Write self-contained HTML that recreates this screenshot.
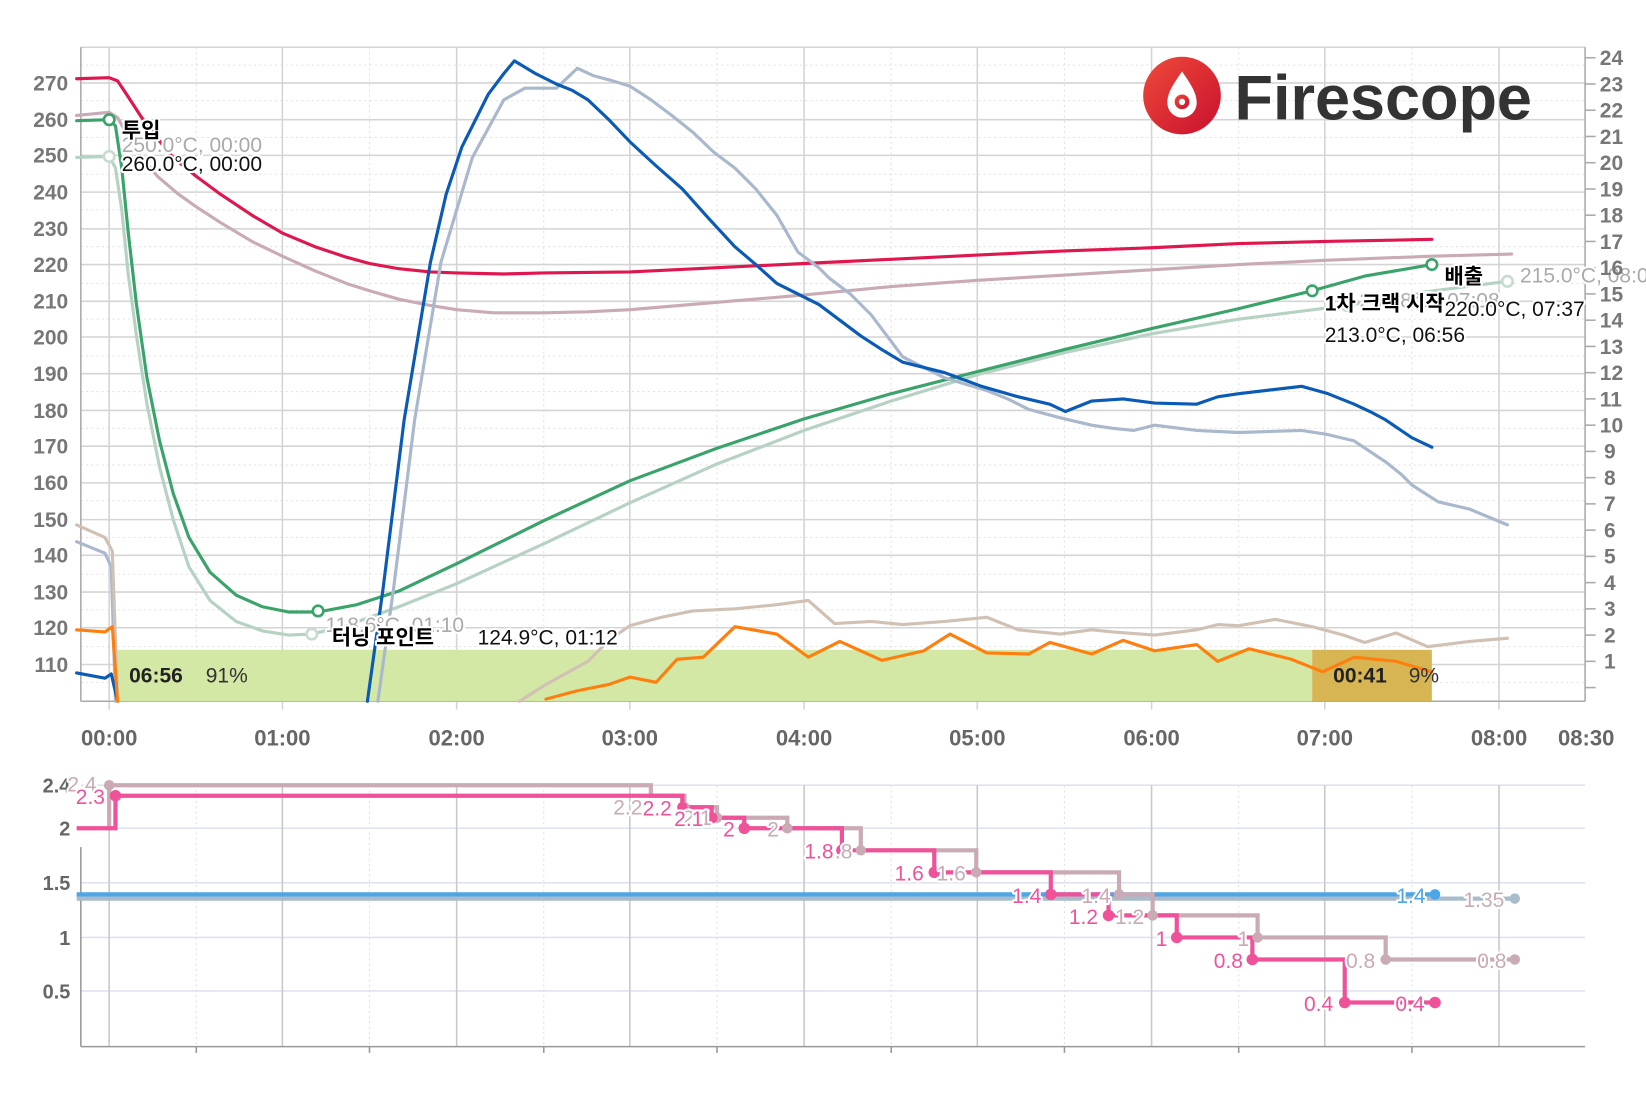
<!DOCTYPE html>
<html><head><meta charset="utf-8"><style>
html,body{margin:0;padding:0;background:#fff;}
svg{display:block;font-family:"Liberation Sans","Noto Sans CJK KR",sans-serif;}
.h{paint-order:stroke;stroke:#fff;stroke-width:4px;stroke-linejoin:round;}
</style></head><body>
<svg width="1646" height="1118" viewBox="0 0 1568 1065" xmlns="http://www.w3.org/2000/svg">
<defs><linearGradient id="lg" x1="0" y1="0" x2="1" y2="1"><stop offset="0" stop-color="#f04a3a"/><stop offset="1" stop-color="#c8102e"/></linearGradient></defs>
<g stroke="#e2e2e2" stroke-width="1" stroke-dasharray="2,3">
<line x1="77" y1="62" x2="1510" y2="62"/><line x1="77" y1="96" x2="1510" y2="96"/><line x1="77" y1="131" x2="1510" y2="131"/><line x1="77" y1="166" x2="1510" y2="166"/><line x1="77" y1="200" x2="1510" y2="200"/><line x1="77" y1="235" x2="1510" y2="235"/><line x1="77" y1="270" x2="1510" y2="270"/><line x1="77" y1="304" x2="1510" y2="304"/><line x1="77" y1="339" x2="1510" y2="339"/><line x1="77" y1="373" x2="1510" y2="373"/><line x1="77" y1="408" x2="1510" y2="408"/><line x1="77" y1="443" x2="1510" y2="443"/><line x1="77" y1="477" x2="1510" y2="477"/><line x1="77" y1="512" x2="1510" y2="512"/><line x1="77" y1="547" x2="1510" y2="547"/><line x1="77" y1="581" x2="1510" y2="581"/><line x1="77" y1="616" x2="1510" y2="616"/><line x1="77" y1="650" x2="1510" y2="650"/>
<line x1="187" y1="45" x2="187" y2="668"/><line x1="352" y1="45" x2="352" y2="668"/><line x1="518" y1="45" x2="518" y2="668"/><line x1="683" y1="45" x2="683" y2="668"/><line x1="849" y1="45" x2="849" y2="668"/><line x1="1014" y1="45" x2="1014" y2="668"/><line x1="1180" y1="45" x2="1180" y2="668"/><line x1="1345" y1="45" x2="1345" y2="668"/>
</g>
<g stroke="#d4d4d4" stroke-width="1.5">
<line x1="77" y1="45" x2="1510" y2="45"/>
<line x1="77" y1="79" x2="1510" y2="79"/><line x1="77" y1="114" x2="1510" y2="114"/><line x1="77" y1="148" x2="1510" y2="148"/><line x1="77" y1="183" x2="1510" y2="183"/><line x1="77" y1="218" x2="1510" y2="218"/><line x1="77" y1="252" x2="1510" y2="252"/><line x1="77" y1="287" x2="1510" y2="287"/><line x1="77" y1="321" x2="1510" y2="321"/><line x1="77" y1="356" x2="1510" y2="356"/><line x1="77" y1="391" x2="1510" y2="391"/><line x1="77" y1="425" x2="1510" y2="425"/><line x1="77" y1="460" x2="1510" y2="460"/><line x1="77" y1="495" x2="1510" y2="495"/><line x1="77" y1="529" x2="1510" y2="529"/><line x1="77" y1="564" x2="1510" y2="564"/><line x1="77" y1="598" x2="1510" y2="598"/><line x1="77" y1="633" x2="1510" y2="633"/>
<line x1="104" y1="45" x2="104" y2="676"/><line x1="269" y1="45" x2="269" y2="676"/><line x1="435" y1="45" x2="435" y2="676"/><line x1="600" y1="45" x2="600" y2="676"/><line x1="766" y1="45" x2="766" y2="676"/><line x1="931" y1="45" x2="931" y2="676"/><line x1="1097" y1="45" x2="1097" y2="676"/><line x1="1262" y1="45" x2="1262" y2="676"/><line x1="1428" y1="45" x2="1428" y2="676"/>
</g>
<g stroke="#aaa" stroke-width="1.5">
<line x1="77" y1="45" x2="77" y2="668"/><line x1="1510" y1="45" x2="1510" y2="668"/><line x1="77" y1="668" x2="1510" y2="668"/>
<line x1="1510" y1="55" x2="1520" y2="55"/><line x1="1510" y1="80" x2="1520" y2="80"/><line x1="1510" y1="105" x2="1520" y2="105"/><line x1="1510" y1="130" x2="1520" y2="130"/><line x1="1510" y1="155" x2="1520" y2="155"/><line x1="1510" y1="180" x2="1520" y2="180"/><line x1="1510" y1="205" x2="1520" y2="205"/><line x1="1510" y1="230" x2="1520" y2="230"/><line x1="1510" y1="255" x2="1520" y2="255"/><line x1="1510" y1="280" x2="1520" y2="280"/><line x1="1510" y1="305" x2="1520" y2="305"/><line x1="1510" y1="330" x2="1520" y2="330"/><line x1="1510" y1="355" x2="1520" y2="355"/><line x1="1510" y1="380" x2="1520" y2="380"/><line x1="1510" y1="405" x2="1520" y2="405"/><line x1="1510" y1="430" x2="1520" y2="430"/><line x1="1510" y1="455" x2="1520" y2="455"/><line x1="1510" y1="480" x2="1520" y2="480"/><line x1="1510" y1="505" x2="1520" y2="505"/><line x1="1510" y1="530" x2="1520" y2="530"/><line x1="1510" y1="555" x2="1520" y2="555"/><line x1="1510" y1="580" x2="1520" y2="580"/><line x1="1510" y1="605" x2="1520" y2="605"/><line x1="1510" y1="630" x2="1520" y2="630"/><line x1="1510" y1="655" x2="1520" y2="655"/>
</g>
<rect x="110" y="619" width="1140" height="49" fill="#d4e8a6"/>
<rect x="1250" y="619" width="114" height="49" fill="#d8b553"/>
<circle cx="1126" cy="91" r="37" fill="url(#lg)"/>
<path d="M1126 68 C1118 80 1112 88 1112 98 A14 14 0 0 0 1140 98 C1140 88 1134 80 1126 68 Z" fill="#fff"/>
<circle cx="1126" cy="97" r="7" fill="url(#lg)"/><circle cx="1126" cy="97" r="3" fill="#fff"/>
<text x="1176" y="114" font-size="60" font-weight="bold" fill="#333">Firescope</text>
<g fill="none" stroke-width="3" stroke-linejoin="round" stroke-linecap="round">
<polyline stroke="#c9aab5" points="73,110 104,107 112,112 122,130 135,150 150,168 170,185 187,197 210,212 240,230 269,244 300,258 330,270 352,277 380,285 410,291 435,295 470,298 518,298 560,297 600,295 683,288 766,281 849,273 931,267 1014,262 1097,257 1180,252 1262,248 1364,244 1440,242"/>
<polyline stroke="#e0174f" points="73,75 104,74 112,77 122,92 135,112 150,132 165,150 187,168 210,185 240,205 269,222 300,235 330,245 352,251 380,256 410,259 435,260 480,261 518,260 600,259 683,255 766,251 849,247 931,243 1014,239 1097,236 1180,232 1262,230 1364,228"/>
<polyline stroke="#b5d2c2" points="73,150 104,149 110,160 116,200 122,260 130,320 140,385 152,445 165,495 180,540 200,572 225,592 250,601 275,605 297,604 330,596 380,578 435,556 518,518 600,479 683,442 766,410 849,382 931,357 1014,336 1097,318 1180,304 1283,291 1350,279 1436,268"/>
<polyline stroke="#3aa36a" points="73,115 104,114 110,120 116,160 122,220 130,290 140,360 152,420 165,470 180,512 200,545 225,567 250,578 275,583 303,583 340,576 380,563 435,537 518,496 600,458 683,427 766,399 849,375 931,354 1014,333 1097,313 1180,294 1250,277 1300,263 1364,252"/>
<polyline stroke="#a9b8cc" points="73,516 100,527 106,540 110,668"/>
<polyline stroke="#a9b8cc" points="360,668 375,560 395,400 420,250 450,150 480,95 500,84 530,84 550,65 565,72 580,76 600,82 620,95 640,110 660,126 680,145 700,160 720,180 740,205 760,240 780,255 790,265 810,280 830,300 845,320 860,340 880,350 900,360 920,366 940,372 960,380 980,390 1010,398 1040,405 1060,408 1080,410 1100,405 1140,410 1180,412 1240,410 1265,414 1290,420 1305,430 1320,440 1335,452 1345,462 1370,478 1400,485 1436,500"/>
<polyline stroke="#0a5bb5" points="73,641 100,646 106,642 112,668"/>
<polyline stroke="#0a5bb5" points="350,668 365,560 385,400 410,250 425,185 440,140 465,90 480,70 490,58 510,70 530,80 545,86 560,95 580,114 600,135 625,158 650,180 675,208 700,235 720,252 740,270 760,280 780,290 800,305 820,320 840,333 860,345 880,350 900,355 935,368 970,378 1000,385 1015,392 1040,382 1070,380 1100,384 1140,385 1160,378 1180,375 1240,368 1265,375 1290,385 1305,392 1320,400 1345,417 1364,426"/>
<polyline stroke="#d1c1b4" points="73,500 100,512 107,525 112,668"/>
<polyline stroke="#d1c1b4" points="495,668 520,652 560,630 580,610 600,596 630,588 660,582 700,580 740,576 770,572 795,594 830,592 860,595 900,592 940,588 970,600 1010,604 1040,600 1060,602 1100,605 1140,600 1160,595 1180,596 1215,590 1250,597 1280,605 1300,612 1330,603 1360,616 1400,611 1436,608"/>
<polyline stroke="#ff7f0e" points="73,600 100,602 107,597 112,668"/>
<polyline stroke="#ff7f0e" points="520,666 550,658 580,652 600,645 625,650 645,628 670,626 700,597 740,604 770,626 800,611 840,629 880,620 905,604 940,622 980,623 1000,612 1040,623 1070,610 1100,620 1140,614 1160,630 1190,618 1230,628 1260,640 1290,626 1330,630 1364,640"/>
</g>
<g fill="#fff" stroke-width="2.5">
<circle cx="104" cy="114" r="5" stroke="#3aa36a"/><circle cx="104" cy="149" r="5" stroke="#c7dccf"/>
<circle cx="303" cy="582" r="5" stroke="#3aa36a"/><circle cx="297" cy="604" r="5" stroke="#c7dccf"/>
<circle cx="1250" cy="277" r="5" stroke="#3aa36a"/><circle cx="1283" cy="291" r="5" stroke="#c7dccf"/>
<circle cx="1364" cy="252" r="5" stroke="#3aa36a"/><circle cx="1436" cy="268" r="5" stroke="#c7dccf"/>
</g>
<g font-size="20" class="h">
<text x="116" y="145" fill="#aaa">250.0°C, 00:00</text>
<text x="116" y="131" font-weight="bold" fill="#000">투입</text>
<text x="116" y="163" fill="#111">260.0°C, 00:00</text>
<text x="310" y="602" fill="#aaa">118.6°C, 01:10</text>
<text x="316" y="614" font-weight="bold" fill="#000">터닝 포인트</text>
<text x="455" y="614" fill="#111">124.9°C, 01:12</text>
<text x="1295" y="293" fill="#aaa">207.8°C, 07:08</text>
<text x="1262" y="296" font-weight="bold" fill="#000">1차 크랙 시작</text>
<text x="1262" y="326" fill="#111">213.0°C, 06:56</text>
<text x="1448" y="269" fill="#aaa">215.0°C, 08:03</text>
<text x="1376" y="270" font-weight="bold" fill="#000">배출</text>
<text x="1376" y="301" fill="#111">220.0°C, 07:37</text>
</g>
<text x="123" y="650" font-size="20" font-weight="bold" fill="#222">06:56</text><text x="196" y="650" font-size="20" fill="#333">91%</text>
<text x="1270" y="650" font-size="20" font-weight="bold" fill="#222">00:41</text><text x="1342" y="650" font-size="20" fill="#333">9%</text>
<g font-size="20" font-weight="bold" fill="#777" text-anchor="end">
<text x="65" y="86">270</text><text x="65" y="121">260</text><text x="65" y="155">250</text><text x="65" y="190">240</text><text x="65" y="225">230</text><text x="65" y="259">220</text><text x="65" y="294">210</text><text x="65" y="328">200</text><text x="65" y="363">190</text><text x="65" y="398">180</text><text x="65" y="432">170</text><text x="65" y="467">160</text><text x="65" y="502">150</text><text x="65" y="536">140</text><text x="65" y="571">130</text><text x="65" y="605">120</text><text x="65" y="640">110</text>
</g>
<g font-size="20" font-weight="bold" fill="#777">
<text x="1524" y="62">24</text><text x="1524" y="87">23</text><text x="1524" y="112">22</text><text x="1524" y="137">21</text><text x="1524" y="162">20</text><text x="1524" y="187">19</text><text x="1524" y="212">18</text><text x="1524" y="237">17</text><text x="1524" y="262">16</text><text x="1524" y="287">15</text><text x="1524" y="312">14</text><text x="1524" y="337">13</text><text x="1524" y="362">12</text><text x="1524" y="387">11</text><text x="1524" y="412">10</text><text x="1528" y="437">9</text><text x="1528" y="462">8</text><text x="1528" y="487">7</text><text x="1528" y="512">6</text><text x="1528" y="537">5</text><text x="1528" y="562">4</text><text x="1528" y="587">3</text><text x="1528" y="612">2</text><text x="1528" y="637">1</text>
</g>
<g font-size="21" font-weight="bold" fill="#666" text-anchor="middle">
<text x="104" y="710">00:00</text><text x="269" y="710">01:00</text><text x="435" y="710">02:00</text><text x="600" y="710">03:00</text><text x="766" y="710">04:00</text><text x="931" y="710">05:00</text><text x="1097" y="710">06:00</text><text x="1262" y="710">07:00</text><text x="1428" y="710">08:00</text><text x="1511" y="710">08:30</text>
</g>
<g stroke="#dfe3ef" stroke-width="1.5">
<line x1="77" y1="748" x2="1510" y2="748"/><line x1="77" y1="789" x2="1510" y2="789"/><line x1="77" y1="841" x2="1510" y2="841"/><line x1="77" y1="893" x2="1510" y2="893"/><line x1="77" y1="944" x2="1510" y2="944"/>
</g>
<g stroke="#e0e0e0" stroke-width="1" stroke-dasharray="2,3">
<line x1="187" y1="748" x2="187" y2="997"/><line x1="352" y1="748" x2="352" y2="997"/><line x1="518" y1="748" x2="518" y2="997"/><line x1="683" y1="748" x2="683" y2="997"/><line x1="849" y1="748" x2="849" y2="997"/><line x1="1014" y1="748" x2="1014" y2="997"/><line x1="1180" y1="748" x2="1180" y2="997"/><line x1="1345" y1="748" x2="1345" y2="997"/>
</g>
<g stroke="#c8c8c8" stroke-width="1.5">
<line x1="104" y1="748" x2="104" y2="997"/><line x1="269" y1="748" x2="269" y2="997"/><line x1="435" y1="748" x2="435" y2="997"/><line x1="600" y1="748" x2="600" y2="997"/><line x1="766" y1="748" x2="766" y2="997"/><line x1="931" y1="748" x2="931" y2="997"/><line x1="1097" y1="748" x2="1097" y2="997"/><line x1="1262" y1="748" x2="1262" y2="997"/><line x1="1428" y1="748" x2="1428" y2="997"/>
</g>
<g stroke="#999" stroke-width="1.5">
<line x1="77" y1="807" x2="77" y2="997"/><line x1="77" y1="997" x2="1510" y2="997"/>
<line x1="187" y1="997" x2="187" y2="1003"/><line x1="352" y1="997" x2="352" y2="1003"/><line x1="518" y1="997" x2="518" y2="1003"/><line x1="683" y1="997" x2="683" y2="1003"/><line x1="849" y1="997" x2="849" y2="1003"/><line x1="1014" y1="997" x2="1014" y2="1003"/><line x1="1180" y1="997" x2="1180" y2="1003"/><line x1="1345" y1="997" x2="1345" y2="1003"/>
</g>
<g font-size="19" font-weight="bold" fill="#666" text-anchor="end">
<text x="67" y="755">2.4</text><text x="67" y="796">2</text><text x="67" y="848">1.5</text><text x="67" y="900">1</text><text x="67" y="951">0.5</text>
</g>
<g fill="none" stroke-width="4">
<polyline stroke="#a9bccb" points="73,856 1443,856"/>
<polyline stroke="#4da6e6" points="73,852 1367,852"/>
<polyline stroke="#c9aab5" points="104,789 104,748 620,748 620,758 652,758 652,769 683,769 683,779 750,779 750,789 820,789 820,810 930,810 930,831 1066,831 1066,852 1098,852 1098,872 1198,872 1198,893 1320,893 1320,914 1443,914"/>
<polyline stroke="#f0529a" points="73,789 110,789 110,758 650,758 650,769 678,769 678,779 709,779 709,789 802,789 802,810 890,810 890,831 1001,831 1001,852 1056,852 1056,872 1121,872 1121,893 1193,893 1193,914 1281,914 1281,955 1367,955"/>
</g>
<g fill="#c9aab5"><circle cx="104" cy="748" r="5"/><circle cx="652" cy="769" r="5"/><circle cx="683" cy="779" r="5"/><circle cx="750" cy="789" r="5"/><circle cx="820" cy="810" r="5"/><circle cx="930" cy="831" r="5"/><circle cx="1066" cy="852" r="5"/><circle cx="1098" cy="872" r="5"/><circle cx="1198" cy="893" r="5"/><circle cx="1320" cy="914" r="5"/><circle cx="1443" cy="914" r="5"/></g>
<circle cx="1443" cy="856" r="5" fill="#a9bccb"/><circle cx="1367" cy="852" r="5" fill="#4da6e6"/>
<g fill="#f0529a"><circle cx="110" cy="758" r="5.5"/><circle cx="650" cy="769" r="5"/><circle cx="678" cy="779" r="5.5"/><circle cx="709" cy="789" r="5.5"/><circle cx="802" cy="810" r="5.5"/><circle cx="890" cy="831" r="5.5"/><circle cx="1001" cy="852" r="5.5"/><circle cx="1056" cy="872" r="5.5"/><circle cx="1121" cy="893" r="5.5"/><circle cx="1193" cy="914" r="5.5"/><circle cx="1281" cy="955" r="5.5"/><circle cx="1367" cy="955" r="5.5"/></g>
<g font-size="20" class="h" text-anchor="end">
<g fill="#c9aab5"><text x="92" y="754">2.4</text><text x="612" y="776">2.2</text><text x="678" y="786">2.1</text><text x="742" y="797">2</text><text x="812" y="818">1.8</text><text x="920" y="839">1.6</text><text x="1058" y="860">1.4</text><text x="1090" y="880">1.2</text><text x="1190" y="901">1</text><text x="1310" y="922">0.8</text><text x="1435" y="922">0.8</text><text x="1433" y="864">1.35</text></g>
<text x="1358" y="860" fill="#4da6e6">1.4</text>
<g fill="#f0529a"><text x="100" y="766">2.3</text><text x="640" y="777">2.2</text><text x="670" y="787">2.1</text><text x="700" y="797">2</text><text x="794" y="818">1.8</text><text x="880" y="839">1.6</text><text x="992" y="860">1.4</text><text x="1046" y="880">1.2</text><text x="1112" y="901">1</text><text x="1184" y="922">0.8</text><text x="1270" y="963">0.4</text><text x="1357" y="963">0.4</text></g>
</g>
</svg>
</body></html>
